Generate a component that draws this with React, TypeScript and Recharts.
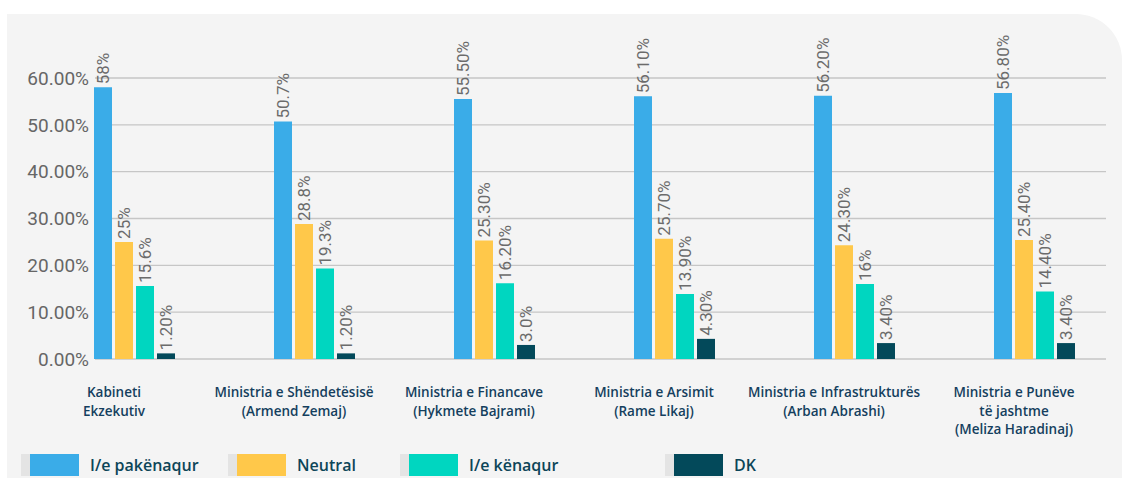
import { BarChart, Bar, XAxis, YAxis, CartesianGrid, LabelList } from 'recharts';

// ministries (x categories)
const categories = [
  'Kabineti\nEkzekutiv',
  'Ministria e Shëndetësisë\n(Armend Zemaj)',
  'Ministria e Financave\n(Hykmete Bajrami)',
  'Ministria e Arsimit\n(Rame Likaj)',
  'Ministria e Infrastrukturës\n(Arban Abrashi)',
  'Ministria e Punëve\ntë jashtme\n(Meliza Haradinaj)',
];

// values in percent
const pakenaqur = [58, 50.7, 55.5, 56.1, 56.2, 56.8];
const neutral = [25, 28.8, 25.3, 25.7, 24.3, 25.4];
const kenaqur = [15.6, 19.3, 16.2, 13.9, 16, 14.4];
const dk = [1.2, 1.2, 3.0, 4.3, 3.4, 3.4];

// value labels as printed on the chart
const pakenaqurLabels = ['58%', '50.7%', '55.50%', '56.10%', '56.20%', '56.80%'];
const neutralLabels = ['25%', '28.8%', '25.30%', '25.70%', '24.30%', '25.40%'];
const kenaqurLabels = ['15.6%', '19.3%', '16.20%', '13.90%', '16%', '14.40%'];
const dkLabels = ['1.20%', '1.20%', '3.0%', '4.30%', '3.40%', '3.40%'];

const yTicks = [0, 10, 20, 30, 40, 50, 60];

const series = [
  { key: 'pak', label: 'I/e pakënaqur', color: '#3aace8' },
  { key: 'neu', label: 'Neutral', color: '#ffc84a' },
  { key: 'ken', label: 'I/e kënaqur', color: '#00d6c0' },
  { key: 'dk', label: 'DK', color: '#03495a' },
];

const data = categories.map((name, i) => ({
  name,
  pak: pakenaqur[i],
  neu: neutral[i],
  ken: kenaqur[i],
  dk: dk[i],
  pakLabel: pakenaqurLabels[i],
  neuLabel: neutralLabels[i],
  kenLabel: kenaqurLabels[i],
  dkLabel: dkLabels[i],
}));

const labelFont = '"Open Sans", "Noto Sans", sans-serif';
const valueFont = 'Roboto, "Liberation Sans", sans-serif';

const VerticalLabel = (props: any) => {
  const { x, y, width, value } = props;
  const cx = Number(x) + Number(width) / 2;
  const ty = Number(y) - 3;
  return (
    <text
      x={cx}
      y={ty}
      transform={`rotate(-90 ${cx} ${ty})`}
      textAnchor="start"
      dominantBaseline="central"
      fill="#6b6b6b"
      fontSize={17}
      fontFamily={valueFont}
    >
      {value}
    </text>
  );
};

const CategoryTick = (props: any) => {
  const { x, y, payload } = props;
  const lines = String(payload.value).split('\n');
  const tx = Number(x) - 20;
  return (
    <text x={tx} y={y} textAnchor="middle" fill="#143f5e" fontSize={13.5} fontWeight={600} fontFamily={labelFont}>
      {lines.map((line, i) => (
        <tspan key={i} x={tx} dy={i === 0 ? 38 : 18.5}>
          {line}
        </tspan>
      ))}
    </text>
  );
};

const legendWidths = [207, 172, 265, 100];

export default function App() {
  return (
    <div style={{ position: 'absolute', left: 0, top: 0, width: 1122, height: 478, background: '#ffffff', overflow: 'hidden' }}>
      <div
        style={{
          position: 'absolute',
          left: 7,
          top: 14,
          width: 1115,
          height: 464,
          background: '#f4f4f4',
          borderTopRightRadius: 46,
        }}
      />
      <div style={{ position: 'absolute', left: 0, top: 0 }}>
        <BarChart
          width={1122}
          height={478}
          data={data}
          margin={{ top: 78, right: 16, left: 0, bottom: 0 }}
          barSize={18}
          barGap={3}
        >
          <CartesianGrid vertical={false} stroke="#c6c6c6" strokeWidth={1.3} />
          <XAxis
            dataKey="name"
            axisLine={false}
            tickLine={false}
            tickSize={0}
            tickMargin={0}
            height={119}
            interval={0}
            padding={{ left: -51, right: -18 }}
            tick={<CategoryTick />}
          />
          <YAxis
            domain={[0, 60]}
            ticks={yTicks}
            width={95}
            axisLine={false}
            tickLine={false}
            tickSize={0}
            tickMargin={6}
            tickFormatter={(v: number) => `${v.toFixed(2)}%`}
            tick={{ fill: '#666666', fontSize: 19, fontFamily: valueFont }}
          />
          {series.map((s) => (
            <Bar key={s.key} dataKey={s.key} fill={s.color} isAnimationActive={false}>
              <LabelList dataKey={`${s.key}Label`} content={<VerticalLabel />} />
            </Bar>
          ))}
        </BarChart>
      </div>
      <div style={{ position: 'absolute', left: 21, top: 454, display: 'flex' }}>
        {series.map((s, i) => (
          <div key={s.key} style={{ width: legendWidths[i], display: 'flex', alignItems: 'center', height: 22 }}>
            <div style={{ width: 9, height: 22, background: '#e4e4e4' }} />
            <div style={{ width: 49, height: 22, background: s.color }} />
            <span style={{ marginLeft: 11, fontFamily: labelFont, fontWeight: 600, fontSize: 16, color: '#0c4558' }}>{s.label}</span>
          </div>
        ))}
      </div>
    </div>
  );
}
